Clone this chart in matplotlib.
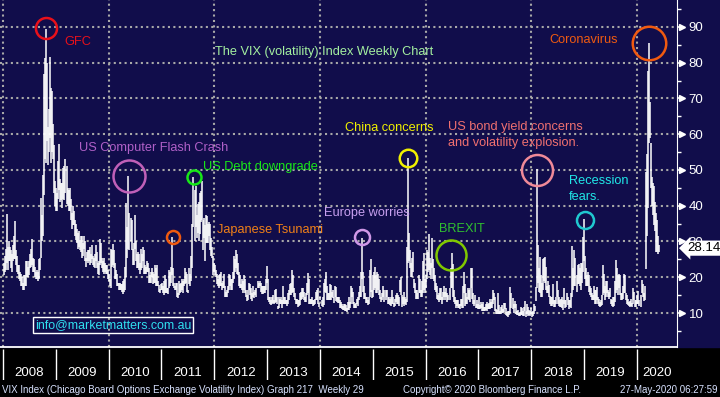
import numpy as np
import matplotlib
matplotlib.use('Agg')
import matplotlib.pyplot as plt
import matplotlib.transforms as mtransforms

plt.rcParams['font.family'] = ['Liberation Sans', 'DejaVu Sans']

# weekly VIX high / low (52 bars a year, 2020 up to late May)
hi_2008 = [24.0, 26.0, 28.0, 37.6, 28.5, 30.0, 28.5, 27.5, 26.5, 29.0, 31.5, 35.6, 27.5, 26.0, 23.5, 23.5, 21.5, 21.0, 20.0, 18.5,
           20.5, 20.5, 24.5, 24.5, 23.0, 24.5, 26.5, 28.0, 30.8, 25.5, 25.0, 23.0, 21.5, 22.0, 21.5, 25.0, 25.5, 42.2, 37.5, 48.5,
           76.9, 81.2, 89.5, 80.0, 62.0, 67.0, 81.5, 73.0, 72.0, 63.0, 57.0, 47.0]
lo_2008 = [20.5, 21.5, 22.0, 24.0, 22.0, 24.5, 24.5, 22.5, 21.5, 24.5, 25.0, 25.0, 23.5, 21.5, 21.0, 19.5, 19.0, 17.5, 17.5, 16.3,
           16.5, 17.5, 17.5, 20.0, 20.0, 20.5, 22.5, 23.0, 23.5, 21.5, 21.5, 20.0, 19.5, 19.5, 19.0, 19.5, 22.0, 25.5, 30.0, 31.5,
           43.0, 53.0, 52.0, 58.0, 51.5, 55.0, 59.0, 52.0, 55.0, 53.0, 43.5, 40.0]
hi_2009 = [45.0, 43.5, 52.5, 57.4, 47.5, 46.5, 46.5, 50.5, 51.0, 53.2, 51.0, 45.0, 44.5, 45.0, 42.0, 38.0, 40.0, 38.5, 36.0, 35.0,
           33.5, 32.5, 33.0, 30.5, 31.5, 31.5, 29.5, 31.5, 30.0, 25.5, 27.0, 27.5, 27.5, 28.5, 26.5, 29.0, 26.0, 25.5, 26.5, 29.0,
           27.0, 24.0, 24.5, 30.7, 29.5, 25.5, 24.5, 25.5, 24.0, 23.5, 23.5, 22.0]
lo_2009 = [38.5, 38.5, 42.0, 44.5, 41.0, 41.5, 39.5, 42.0, 41.5, 43.5, 40.5, 40.0, 38.5, 38.5, 36.0, 33.5, 34.5, 34.5, 31.5, 30.5,
           29.5, 28.0, 28.5, 27.5, 27.0, 25.5, 26.0, 28.0, 24.5, 23.0, 24.5, 24.0, 24.5, 23.5, 24.0, 25.0, 23.5, 23.0, 22.5, 24.5,
           22.5, 21.0, 20.5, 23.5, 24.0, 22.5, 21.5, 21.0, 21.5, 21.0, 21.0, 19.5]
hi_2010 = [21.0, 19.5, 28.0, 27.5, 29.2, 27.5, 24.0, 22.0, 21.0, 18.5, 18.5, 18.5, 18.0, 18.0, 19.0, 19.5, 23.0, 40.7, 34.0, 48.2,
           38.0, 36.5, 36.0, 28.0, 29.5, 37.5, 30.0, 26.5, 27.0, 26.5, 24.0, 28.0, 26.5, 28.5, 27.5, 23.5, 23.0, 24.5, 24.0, 22.5,
           20.5, 21.5, 22.5, 21.5, 21.0, 23.5, 22.5, 23.5, 19.0, 17.8, 16.8, 18.0]
lo_2010 = [19.0, 17.5, 17.0, 23.0, 23.5, 22.5, 19.5, 19.5, 17.5, 17.5, 16.5, 16.5, 16.5, 16.0, 15.2, 16.0, 16.5, 20.0, 25.5, 28.0,
           27.5, 30.0, 27.5, 23.5, 23.5, 28.0, 24.5, 22.5, 22.5, 22.0, 21.0, 22.0, 22.5, 24.5, 21.0, 21.0, 21.0, 21.5, 21.5, 18.5,
           18.5, 18.5, 20.0, 18.0, 18.5, 18.5, 17.5, 17.5, 17.5, 16.0, 15.5, 16.5]
hi_2011 = [18.5, 17.5, 19.0, 20.5, 19.5, 17.0, 17.0, 22.0, 21.5, 23.0, 31.3, 22.5, 18.5, 17.5, 18.5, 18.5, 15.5, 19.0, 18.0, 18.5,
           19.5, 19.0, 19.5, 22.5, 21.5, 21.0, 16.5, 22.5, 21.0, 26.0, 35.0, 48.0, 44.5, 45.5, 37.5, 40.5, 41.0, 43.5, 44.0, 46.9,
           36.0, 36.5, 34.5, 37.3, 37.0, 35.0, 35.5, 35.0, 31.0, 28.5, 26.0, 24.0]
lo_2011 = [16.5, 15.5, 15.0, 15.5, 15.5, 15.5, 15.3, 17.0, 17.5, 18.5, 20.5, 17.5, 17.0, 16.5, 16.5, 14.5, 14.3, 15.0, 15.5, 16.0,
           16.5, 15.5, 17.5, 18.0, 18.5, 16.0, 15.5, 18.0, 17.5, 19.0, 22.5, 34.0, 30.0, 34.0, 31.0, 32.5, 30.0, 32.0, 35.5, 36.0,
           27.5, 31.0, 24.5, 29.5, 29.5, 29.5, 31.5, 27.5, 26.0, 25.5, 20.5, 21.5]
hi_2012 = [23.5, 22.0, 21.0, 19.5, 20.5, 21.0, 21.5, 18.5, 19.0, 21.0, 17.5, 15.8, 16.5, 17.5, 21.0, 20.5, 19.5, 19.5, 21.5, 26.0,
           25.0, 27.7, 26.5, 24.0, 21.5, 20.5, 18.0, 19.5, 19.0, 20.5, 19.5, 16.5, 15.0, 16.5, 18.5, 18.0, 17.0, 15.5, 17.5, 16.0,
           16.5, 17.0, 19.0, 18.5, 19.0, 18.5, 17.5, 17.5, 17.5, 17.5, 19.5, 23.2]
lo_2012 = [20.5, 20.0, 18.0, 17.5, 17.0, 17.5, 17.5, 16.5, 17.0, 17.0, 14.5, 14.5, 14.5, 15.5, 16.5, 17.5, 16.5, 16.5, 18.5, 19.5,
           21.5, 22.5, 21.0, 20.5, 17.5, 17.0, 17.0, 16.5, 15.5, 16.5, 15.5, 14.5, 13.3, 13.5, 16.5, 15.0, 14.0, 13.3, 14.5, 14.3,
           15.0, 14.5, 17.0, 17.0, 17.5, 16.0, 15.2, 15.2, 15.5, 15.5, 16.5, 18.5]
hi_2013 = [19.5, 14.5, 14.5, 13.5, 14.5, 15.0, 13.5, 16.5, 16.7, 14.5, 12.0, 14.5, 13.8, 14.5, 13.5, 17.5, 14.5, 14.5, 13.5, 13.5,
           15.5, 16.5, 18.0, 18.5, 21.9, 20.5, 17.0, 15.5, 14.0, 13.8, 13.5, 13.5, 15.5, 16.0, 17.0, 17.0, 16.0, 14.5, 15.5, 18.5,
           21.3, 19.5, 14.0, 14.0, 14.5, 13.5, 13.5, 14.0, 16.0, 16.5, 17.0, 12.9]
lo_2013 = [13.5, 13.2, 12.5, 12.3, 12.5, 12.8, 12.5, 12.8, 13.0, 12.5, 11.1, 11.5, 12.5, 12.5, 11.5, 12.5, 12.5, 12.5, 12.5, 12.0,
           12.5, 13.5, 15.0, 15.0, 15.5, 16.0, 14.5, 13.5, 12.5, 12.5, 11.8, 11.9, 12.3, 13.5, 14.0, 14.5, 13.5, 13.0, 13.0, 15.0,
           15.5, 12.5, 12.5, 12.5, 12.5, 12.0, 12.2, 12.5, 13.5, 13.5, 12.5, 11.7]
hi_2014 = [14.5, 13.5, 14.5, 18.5, 19.5, 21.5, 17.5, 15.5, 15.5, 18.2, 17.8, 16.0, 16.5, 14.5, 17.5, 17.3, 14.5, 14.5, 14.5, 13.5,
           13.0, 12.5, 12.0, 12.5, 12.5, 12.2, 11.5, 13.0, 14.5, 13.0, 17.6, 17.0, 16.0, 13.0, 12.5, 12.8, 14.0, 14.5, 16.0, 17.5,
           21.5, 31.1, 21.5, 17.5, 15.7, 14.5, 14.5, 13.5, 14.5, 22.0, 25.2, 16.5]
lo_2014 = [13.5, 12.0, 11.8, 12.2, 16.0, 15.5, 13.5, 13.5, 13.5, 13.5, 13.5, 14.5, 14.2, 12.9, 14.5, 13.3, 13.0, 12.8, 12.8, 11.5,
           11.4, 11.0, 10.8, 10.8, 10.6, 10.6, 10.3, 10.7, 10.9, 11.5, 12.5, 14.5, 12.5, 11.5, 11.3, 11.5, 12.5, 12.0, 13.5, 14.5,
           14.5, 19.5, 16.0, 14.0, 14.0, 12.8, 12.9, 12.2, 12.5, 14.5, 16.0, 14.3]
hi_2015 = [20.5, 21.5, 23.0, 20.5, 21.4, 21.0, 19.5, 16.5, 14.5, 15.5, 17.5, 16.5, 16.5, 16.5, 14.5, 14.5, 14.0, 14.5, 16.5, 14.5,
           12.8, 14.0, 15.0, 15.5, 15.0, 14.5, 19.3, 20.0, 15.0, 14.5, 16.0, 14.5, 14.0, 28.4, 53.3, 32.5, 27.5, 24.0, 25.5, 27.2,
           19.5, 18.5, 16.5, 16.5, 15.5, 20.7, 19.5, 16.5, 19.0, 24.5, 26.8, 19.5]
lo_2015 = [14.5, 16.5, 17.0, 15.5, 15.5, 16.5, 15.0, 14.0, 13.0, 13.5, 14.5, 13.0, 13.5, 14.5, 12.6, 12.5, 12.3, 12.0, 12.5, 12.5,
           11.8, 12.0, 13.0, 12.5, 12.5, 12.0, 16.0, 15.0, 11.8, 12.5, 12.0, 12.5, 12.2, 13.0, 24.0, 24.5, 22.5, 20.0, 20.0, 21.5,
           17.0, 15.5, 14.0, 14.0, 14.0, 15.5, 15.5, 14.5, 14.5, 15.5, 16.5, 15.5]
hi_2016 = [20.5, 27.6, 27.0, 32.1, 25.5, 24.0, 30.9, 25.0, 22.5, 20.5, 18.5, 17.5, 15.0, 15.5, 17.0, 17.0, 14.5, 16.0, 17.5, 16.0,
           17.0, 15.5, 15.0, 17.0, 22.5, 26.7, 23.8, 16.5, 14.5, 13.5, 13.5, 13.5, 12.5, 12.5, 14.0, 14.0, 17.5, 21.5, 18.0, 15.5,
           14.5, 17.0, 16.5, 17.0, 22.5, 22.5, 15.5, 13.5, 15.0, 12.5, 13.5, 12.5]
lo_2016 = [17.0, 19.5, 21.5, 22.0, 20.5, 19.5, 22.5, 19.5, 19.0, 16.5, 16.0, 14.0, 13.5, 13.0, 13.5, 13.5, 12.5, 13.5, 14.5, 13.5,
           14.5, 13.0, 13.5, 13.5, 17.0, 17.0, 14.5, 13.2, 12.5, 11.5, 12.0, 11.5, 11.5, 11.0, 12.0, 11.5, 11.5, 15.5, 12.0, 12.5,
           12.5, 14.0, 13.5, 13.0, 17.0, 14.0, 12.5, 12.0, 12.5, 11.5, 11.5, 11.0]
hi_2017 = [14.5, 12.2, 13.2, 12.5, 13.1, 11.8, 11.8, 12.5, 13.2, 12.5, 12.9, 13.9, 13.2, 13.9, 16.3, 15.5, 14.5, 11.0, 10.8, 15.6,
           12.3, 10.5, 11.6, 12.3, 11.2, 12.7, 12.9, 11.5, 10.4, 10.6, 10.5, 17.3, 15.7, 14.3, 12.5, 13.3, 12.5, 10.5, 10.8, 10.0,
           10.3, 11.6, 11.5, 10.5, 11.8, 13.3, 10.6, 12.5, 11.7, 10.8, 10.5, 11.5]
lo_2017 = [11.0, 11.0, 11.5, 10.5, 10.5, 10.5, 10.6, 10.7, 10.5, 11.0, 11.0, 11.2, 11.5, 11.5, 12.5, 13.5, 10.5, 9.8, 9.6, 9.8,
           9.8, 9.7, 9.7, 10.1, 9.9, 10.4, 11.0, 9.5, 9.3, 8.8, 9.4, 10.0, 11.5, 11.0, 10.1, 11.5, 9.8, 9.5, 9.5, 9.2,
           9.2, 9.5, 9.4, 9.1, 9.3, 10.5, 9.0, 9.6, 9.3, 9.4, 9.3, 9.6]
hi_2018 = [10.4, 10.5, 12.5, 11.9, 17.4, 50.3, 29.0, 22.5, 25.7, 20.5, 18.5, 25.2, 25.5, 25.7, 23.0, 17.5, 18.9, 17.9, 14.8, 14.5,
           14.5, 18.0, 13.5, 13.5, 14.5, 19.0, 16.5, 14.5, 13.5, 14.0, 14.5, 13.5, 16.9, 13.5, 13.5, 15.5, 14.5, 13.5, 13.5, 15.5,
           28.8, 22.5, 27.5, 25.5, 20.5, 23.5, 23.8, 22.5, 24.0, 24.0, 31.2, 36.2]
lo_2018 = [9.0, 9.2, 9.8, 10.5, 13.3, 17.0, 18.5, 16.0, 15.5, 14.5, 14.5, 16.5, 19.0, 18.5, 16.5, 15.5, 15.5, 14.5, 12.5, 11.9,
           12.0, 12.5, 11.6, 11.6, 12.5, 14.5, 12.6, 12.0, 11.8, 11.8, 11.5, 10.8, 12.5, 11.5, 11.6, 13.5, 12.2, 11.1, 11.8, 11.3,
           14.5, 16.5, 17.5, 17.5, 16.0, 18.0, 18.0, 17.5, 16.5, 18.5, 21.5, 24.5]
hi_2019 = [25.9, 22.5, 20.5, 21.5, 20.5, 17.5, 17.0, 15.5, 15.0, 17.5, 16.5, 16.5, 17.3, 14.5, 14.0, 13.0, 13.5, 15.0, 23.4, 20.9,
           17.5, 18.9, 19.0, 16.5, 16.0, 17.0, 14.0, 13.5, 14.5, 14.5, 19.0, 24.8, 22.5, 20.5, 21.0, 20.5, 15.5, 15.5, 17.5, 21.0,
           20.5, 15.5, 15.0, 13.8, 13.0, 13.3, 13.8, 12.9, 17.0, 16.0, 13.5, 13.5]
lo_2019 = [19.5, 17.5, 17.5, 17.5, 16.0, 15.0, 14.5, 13.5, 13.5, 13.5, 12.5, 12.5, 13.5, 12.5, 12.0, 11.8, 11.9, 12.2, 15.0, 15.5,
           13.5, 14.5, 15.5, 14.5, 13.8, 14.5, 12.5, 12.0, 11.7, 12.0, 13.0, 15.5, 16.5, 15.0, 17.0, 15.0, 13.5, 13.5, 14.0, 15.5,
           15.5, 13.5, 12.5, 12.3, 12.0, 11.8, 12.0, 11.8, 12.5, 13.5, 11.8, 11.8]
hi_2020 = [15.0, 16.2, 13.5, 15.0, 19.2, 18.0, 15.5, 17.5, 49.5, 54.4, 77.6, 85.5, 69.0, 57.5, 48.0, 46.5, 45.5, 41.0, 38.0, 36.0,
           31.5, 29.0]
lo_2020 = [12.5, 12.5, 12.0, 11.8, 15.5, 14.5, 13.4, 13.5, 22.2, 31.5, 39.5, 57.5, 59.0, 45.0, 40.0, 37.5, 34.5, 33.0, 27.0, 27.0,
           26.5, 27.0]

years = list(range(2008, 2021))
highs = [hi_2008, hi_2009, hi_2010, hi_2011, hi_2012, hi_2013, hi_2014, hi_2015, hi_2016, hi_2017, hi_2018, hi_2019, hi_2020]
lows = [lo_2008, lo_2009, lo_2010, lo_2011, lo_2012, lo_2013, lo_2014, lo_2015, lo_2016, lo_2017, lo_2018, lo_2019, lo_2020]
last_value = 28.14
y_ticks = [10, 20, 30, 40, 50, 60, 70, 80, 90]

wk_x, wk_hi, wk_lo = [], [], []
for yr, h, l in zip(years, highs, lows):
    for i in range(len(h)):
        wk_x.append(yr + (i + 0.5) / 52)
        wk_hi.append(h[i])
        wk_lo.append(l[i])

navy = '#110d4b'
W, H = 720, 397
x0, x1 = 2007.943, 2020.758

fig = plt.figure(figsize=(7.2, 3.97), dpi=100, facecolor='black')
fig.patches.append(plt.Rectangle((0, 50 / H), 1, 1, transform=fig.transFigure, color=navy, zorder=-10))

ax = fig.add_axes([0, 50 / H, 677 / W, 347 / H], facecolor=navy)
ax.set_xlim(x0, x1)
ax.set_ylim(0.49, 97.55)

# dotted grid
for v in y_ticks:
    ax.axhline(v, color='#a8a8a8', lw=1.5, ls=(0, (1, 1.6)), zorder=1)
for yr in range(2008, 2021, 2):
    ax.axvline(yr, color='#a8a8a8', lw=1.5, ls=(0, (1, 1.6)), zorder=1)

ax.vlines(wk_x, wk_lo, wk_hi, colors='white', lw=1.1, zorder=3)

for s in ['top', 'left']:
    ax.spines[s].set_visible(False)
ax.spines['right'].set_color('white')
ax.spines['bottom'].set_color('white')
ax.spines['bottom'].set_linewidth(1.3)
ax.set_xticks([])
ax.yaxis.tick_right()
ax.set_yticks(y_ticks)
ax.set_yticks(np.arange(5, 100, 10), minor=True)
ax.tick_params(axis='y', which='major', colors='white', labelsize=9.5, length=4.5, width=1.2, pad=4)
ax.tick_params(axis='y', which='minor', colors='white', length=3, width=1)
trans = mtransforms.blended_transform_factory(ax.transAxes, ax.transData)
ax.plot([1 + 5 / 677] * len(y_ticks), y_ticks, '>', color='white', ms=4, transform=trans, clip_on=False)

# last value flag sits over the 30 label, as on the terminal
ax.text(1 + 10 / 677, last_value, '%.2f' % last_value, transform=trans, color='black', fontsize=9.5,
        va='center', ha='left', clip_on=False, zorder=6,
        bbox=dict(boxstyle='larrow,pad=0.12', fc='white', ec='none'))

# annotations
def circ(x, y, d, c):
    ax.plot([x], [y], 'o', ms=(d - 2) * 0.72, mfc='none', mec=c, mew=1.8, zorder=5)

fs = 9.2
circ(2008.814, 89.6, 23, '#e8101a')
ax.text(2009.155, 84.9, 'GFC', color='#e8101a', fontsize=fs)
ax.text(2014.07, 82.2, 'The VIX (volatility) Index Weekly Chart', color='#a4f0a0', fontsize=fs, ha='center')
circ(2010.385, 48.3, 34, '#c060b8')
ax.text(2009.44, 55.3, 'US Computer Flash Crash', color='#b060c8', fontsize=fs)
circ(2011.615, 48.0, 16, '#18e818')
ax.text(2011.79, 50.1, 'US Debt downgrade', color='#18e818', fontsize=fs)
circ(2011.224, 31.3, 15, '#f05a10')
ax.text(2012.05, 32.4, 'Japanese Tsunami', color='#f08018', fontsize=fs)
circ(2014.795, 31.3, 17, '#d098e8')
ax.text(2014.076, 37.1, 'Europe worries', color='#c8a0f0', fontsize=fs)
circ(2015.666, 53.3, 19.5, '#f0f000')
ax.text(2014.474, 60.9, 'China concerns', color='#f0f000', fontsize=fs)
circ(2018.102, 50.0, 33, '#f08a98')
ax.text(2016.423, 61.2, 'US bond yield concerns', color='#f07070', fontsize=fs)
ax.text(2016.423, 56.7, 'and volatility explosion.', color='#f07070', fontsize=fs)
circ(2016.48, 26.3, 32, '#80c800')
ax.text(2016.253, 32.7, 'BREXIT', color='#30c030', fontsize=fs)
circ(2019.011, 36.1, 19, '#20c8d0')
ax.text(2018.714, 46.1, 'Recession', color='#20e8e8', fontsize=fs)
ax.text(2018.714, 41.6, 'fears.', color='#20e8e8', fontsize=fs)
circ(2020.228, 85.5, 35.5, '#f05a10')
ax.text(2018.335, 85.5, 'Coronavirus', color='#f05a10', fontsize=fs)
ax.text(2008.6, 5.9, 'info@marketmatters.com.au', color='#30e0f0', fontsize=8.9,
        bbox=dict(boxstyle='square,pad=0.16', fc='none', ec='white', lw=1))

# year strip
ax2 = fig.add_axes([0, 17 / H, 677 / W, 33 / H], facecolor='black')
ax2.set_xlim(x0, x1)
ax2.set_ylim(0, 1)
ax2.axis('off')
ax2.vlines(range(2008, 2021), 0, 0.95, colors='white', lw=1)
for yr in years:
    cx = yr + 0.5 if yr < 2020 else (2020 + x1) / 2
    ax2.text(cx, 0.21, str(yr), color='white', fontsize=9.5, ha='center', va='center')

fig.text(2 / W, 7 / H, 'VIX Index (Chicago Board Options Exchange Volatility Index) Graph 217  Weekly 29',
         color='#d8e2ff', fontsize=7.0, va='center')
fig.text(403 / W, 7 / H, 'Copyright\u00a9 2020 Bloomberg Finance L.P.', color='#d8e2ff', fontsize=7.0, va='center')
fig.text(718 / W, 7 / H, '27-May-2020 06:27:59', color='#d8e2ff', fontsize=7.0, va='center', ha='right')

fig.savefig('out.png', dpi=100, facecolor='black')
